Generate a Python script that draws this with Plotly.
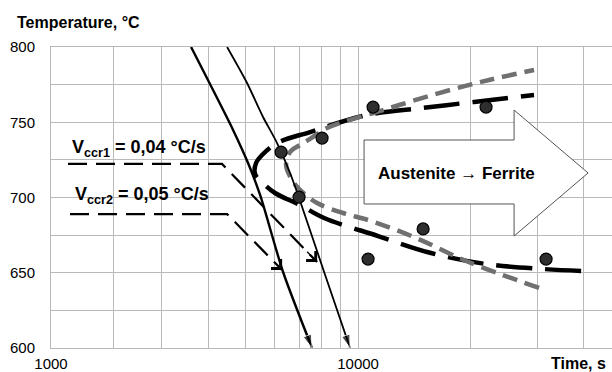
import numpy as np
import plotly.graph_objects as go

# ---------------- data (time in s, temperature in °C) ----------------
# cooling curves (solid, with arrow heads)
cool_a_t = [3587, 4105, 4642, 5089, 5480, 6310, 7540]
cool_a_T = [800, 771.4, 744.9, 722.9, 701.7, 650.5, 600]
cool_b_t = [4475, 5058, 5580, 6081, 6587, 6918, 8118, 9521]
cool_b_T = [800, 776.1, 753.5, 736.2, 716.3, 701.7, 650.5, 600]

# critical cooling rate paths (dashed, open arrow heads)
vccr1_t = [1685, 4338, 7776]
vccr1_T = [722.3, 722.3, 657.1]
vccr2_t = [1706, 4475, 6271]
vccr2_T = [689.0, 689.0, 651.8]

# fitted ferrite-start C-curve (black long dash)
cfit_t = [39330, 31140, 21940, 15650, 11306, 8118, 7003, 6006, 5579, 5313, 5346, 5546,
          6081, 7447, 10568, 14908, 20390, 29460]
cfit_T = [651.2, 652.5, 655.8, 663.1, 674.4, 686.4, 695.0, 703.0, 709.6, 715.6, 722.9, 728.2,
          736.2, 743.5, 754.8, 759.5, 763.5, 768.1]

# model C-curve (grey dash)
model_t = [30380, 19410, 14280, 10830, 9120, 7777, 7003, 6668, 6427, 6587, 7003, 7447,
           8266, 11660, 16440, 22350, 29460]
model_T = [639.9, 657.8, 673.1, 684.4, 689.7, 696.3, 705.0, 711.6, 721.6, 730.2, 734.9, 738.9,
           746.2, 758.1, 769.4, 778.1, 784.7]

# experimental points
pts_t = [6234, 6961, 8017, 10965, 21940, 14908, 10634, 31720]
pts_T = [730.2, 700.3, 739.5, 760.1, 760.1, 679.1, 659.1, 659.1]

# big block arrow "Austenite -> Ferrite"
arrow_t = [10375, 26060, 26060, 41050, 26060, 26060, 10375, 10375]
arrow_T = [738.2, 738.2, 758.1, 716.3, 674.4, 695.7, 695.7, 738.2]

# axes
x_min, x_max = 1518, 47540
x_label_vals = [x_min, 10000]
x_label_text = ["1000", "10000"]
x_grid_vals = [2230, 3000, 4000, 5000, 6000, 7000, 8000, 9000, 20000, 30000, 40000]
y_label_vals = [600, 650, 700, 750, 800]

FONT = "Liberation Sans, Arial, sans-serif"
GRID = "#b9b9b9"

fig = go.Figure()

# block arrow
fig.add_trace(go.Scatter(x=arrow_t, y=arrow_T, mode="lines", fill="toself",
                         fillcolor="white", line=dict(color="#555555", width=1),
                         hoverinfo="skip"))

# black fitted curve
fig.add_trace(go.Scatter(x=cfit_t, y=cfit_T, mode="lines", line_shape="spline",
                         line=dict(color="black", width=4.5, dash="36px,13px")))
# grey model curve
fig.add_trace(go.Scatter(x=model_t, y=model_T, mode="lines", line_shape="spline",
                         line=dict(color="#707070", width=4.5, dash="15px,8px")))

# dashed Vccr paths with chevron heads
for tt, TT in [(vccr1_t, vccr1_T), (vccr2_t, vccr2_T)]:
    fig.add_trace(go.Scatter(x=tt, y=TT, mode="lines",
                             line=dict(color="black", width=2.2, dash="19px,9px")))
    lx0, lx1 = np.log10(tt[-2]), np.log10(tt[-1])
    f = 0.88
    fig.add_annotation(x=lx1, y=TT[-1], xref="x", yref="y",
                       ax=lx0 + f * (lx1 - lx0), ay=TT[-2] + f * (TT[-1] - TT[-2]),
                       axref="x", ayref="y", showarrow=True, arrowhead=4,
                       arrowsize=2.0, arrowwidth=1.3, arrowcolor="black", text="")

# cooling curves
for tt, TT, w in [(cool_a_t, cool_a_T, 2.4), (cool_b_t, cool_b_T, 1.8)]:
    fig.add_trace(go.Scatter(x=tt, y=TT, mode="lines+markers", line_shape="spline",
                             line=dict(color="black", width=w, smoothing=0.7),
                             marker=dict(symbol="arrow", angleref="previous",
                                         size=[0] * (len(tt) - 1) + [14], color="black")))

# experimental points
fig.add_trace(go.Scatter(x=pts_t, y=pts_T, mode="markers",
                         marker=dict(size=12, color="#2e2e2e",
                                     line=dict(color="black", width=1.2))))

# white label box hiding the grid behind the Vccr labels
fig.add_shape(type="rect", xref="paper", yref="paper", x0=0.027, x1=0.309,
              y0=0.435, y1=0.761, fillcolor="white", line=dict(width=0),
              layer="between")

ann = [
    dict(text="<b>Temperature, °C</b>", x=-0.064, y=1.08, xanchor="left", yanchor="middle",
         font=dict(size=16)),
    dict(text="<b>Time, s</b>", x=0.993, y=-0.053, xanchor="right", yanchor="middle",
         font=dict(size=16)),
    dict(text="<b>V<sub>ccr1</sub> = 0,04 °C/s</b>", x=0.034, y=0.664, xanchor="left",
         yanchor="middle", font=dict(size=18)),
    dict(text="<b>V<sub>ccr2</sub> = 0,05 °C/s</b>", x=0.039, y=0.505, xanchor="left",
         yanchor="middle", font=dict(size=18)),
    dict(text="<b>Austenite \u2192 Ferrite</b>", x=0.722, y=0.581, xanchor="center",
         yanchor="middle", font=dict(size=17)),
]
for a in ann:
    a.update(xref="paper", yref="paper", showarrow=False)
    a["font"]["family"] = FONT
    a["font"]["color"] = "black"
    fig.add_annotation(**a)

fig.update_layout(
    width=612, height=372,
    margin=dict(l=51, r=0, t=47, b=24, autoexpand=False),
    paper_bgcolor="white", plot_bgcolor="white",
    showlegend=False,
    font=dict(family=FONT, color="black"),
    xaxis=dict(type="log", range=[np.log10(x_min), np.log10(x_max)], automargin=False,
               tickmode="array", tickvals=x_label_vals, ticktext=x_label_text,
               tickfont=dict(size=15, family=FONT, color="black"),
               showgrid=True, gridcolor=GRID, gridwidth=1,
               minor=dict(tickmode="array", tickvals=x_grid_vals, showgrid=True,
                          gridcolor=GRID, gridwidth=1, ticks=""),
               showline=True, linecolor=GRID, linewidth=1, mirror=True,
               ticks="", ticklabelstandoff=2, zeroline=False),
    yaxis=dict(range=[600, 800], automargin=False, tickmode="array", tickvals=y_label_vals,
               tickfont=dict(size=15, family=FONT, color="black"),
               showgrid=True, gridcolor=GRID, gridwidth=1,
               minor=dict(dtick=25, showgrid=True, gridcolor=GRID, gridwidth=1, ticks=""),
               showline=True, linecolor=GRID, linewidth=1,
               ticks="", ticklabelstandoff=12, zeroline=False),
)

fig.write_html("out.html", config={"displayModeBar": False},
               post_script="document.body.style.margin='0';document.body.style.overflow='hidden';")
